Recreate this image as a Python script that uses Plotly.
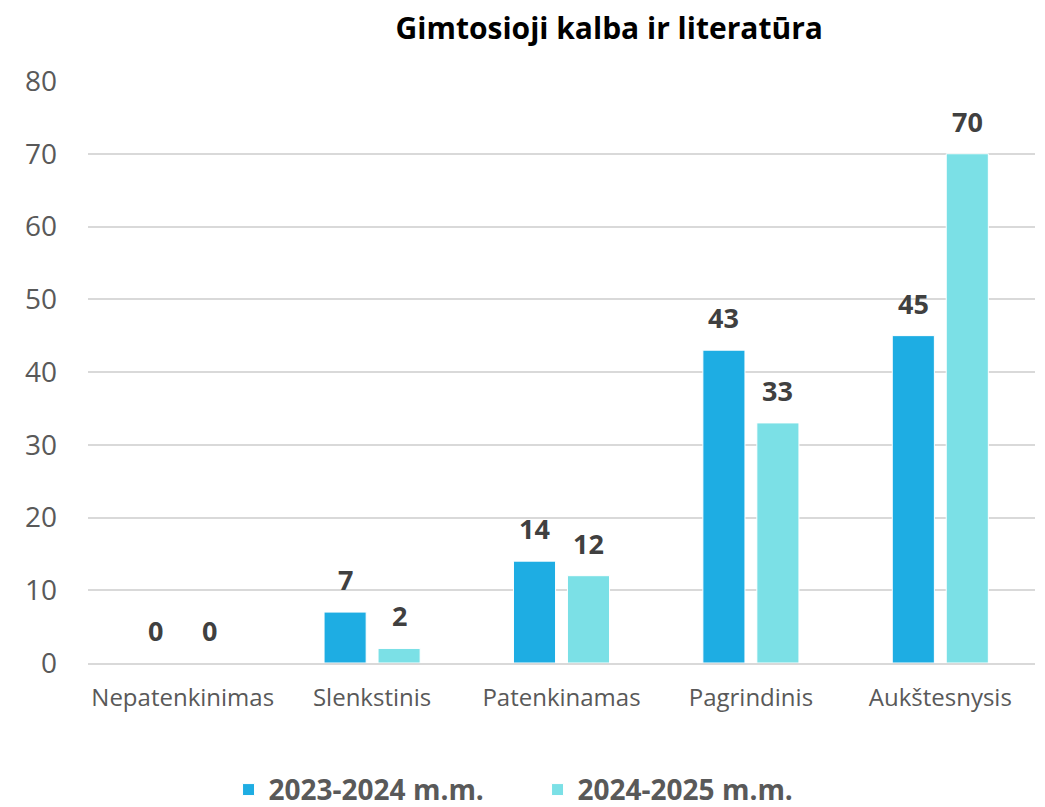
import plotly.graph_objects as go

categories = ["Nepatenkinimas", "Slenkstinis", "Patenkinamas", "Pagrindinis", "Aukštesnysis"]
series_names = ["2023-2024 m.m.", "2024-2025 m.m."]
values_2023 = [0, 7, 14, 43, 45]
values_2024 = [0, 2, 12, 33, 70]
colors = ["#1EADE3", "#7BE0E6"]

FONT = "Open Sans"
SLOT_PX = 27  # half distance between grouped bar centres

fig = go.Figure()
for i, (name, vals, col) in enumerate(zip(series_names, [values_2023, values_2024], colors)):
    fig.add_trace(go.Bar(
        x=categories, y=vals, name=name,
        marker=dict(color=col, line=dict(color="white", width=1)),
    ))
    shift = -SLOT_PX if i == 0 else SLOT_PX
    for c, v in zip(categories, vals):
        fig.add_annotation(x=c, y=v, xref="x", yref="y", text=f"<b>{v}</b>",
                           showarrow=False, xshift=shift, yshift=12, yanchor="bottom",
                           font=dict(family=FONT, size=27, color="#404040"))

fig.update_layout(
    width=1045, height=807,
    paper_bgcolor="white", plot_bgcolor="white",
    margin=dict(l=88, r=10, t=81, b=144, autoexpand=False),
    barmode="group", bargap=0.43, bargroupgap=0.22,
    title=dict(text="<b>Gimtosioji kalba ir literatūra</b>", x=0.583, xanchor="center",
               y=0.965, yanchor="middle",
               font=dict(family=FONT, size=30, color="#000000")),
    xaxis=dict(showgrid=False, showline=True, linecolor="#D9D9D9", linewidth=1.5,
               tickfont=dict(family=FONT, size=24, color="#595959"), ticks="",
               ticklabelstandoff=12),
    yaxis=dict(range=[0, 80], dtick=10, showgrid=True, gridcolor="#D9D9D9", gridwidth=1.5,
               zeroline=False, tickfont=dict(family=FONT, size=28, color="#595959"),
               ticks="", ticklabelstandoff=30),
    legend=dict(orientation="h", x=0.4747, xanchor="center", yref="paper",
                y=-0.218, yanchor="middle",
                font=dict(family=FONT, size=28, color="#595959", weight="bold"),
                itemwidth=30, entrywidthmode="pixels", entrywidth=264),
    showlegend=True,
)

fig.write_html("out.html", config={"displayModeBar": False},
               post_script="document.body.style.margin='0';")
